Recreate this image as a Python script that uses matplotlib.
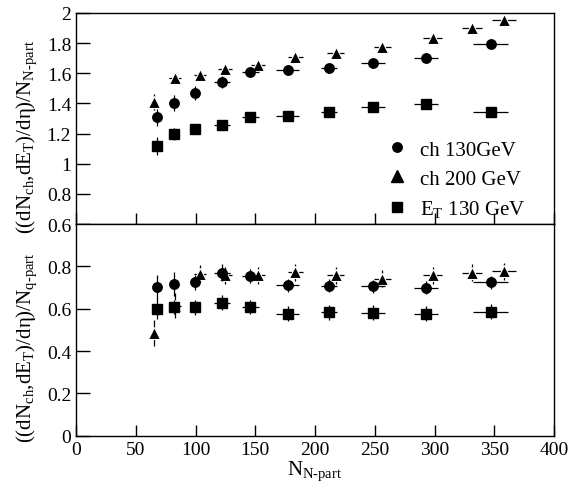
import matplotlib
matplotlib.use("Agg")
import matplotlib.pyplot as plt
from matplotlib.ticker import FuncFormatter, MultipleLocator
from matplotlib.lines import Line2D

plt.rcParams['font.family'] = ['Liberation Serif', 'DejaVu Serif']
plt.rcParams['mathtext.fontset'] = 'custom'
plt.rcParams['mathtext.rm'] = 'Liberation Serif'
plt.rcParams['mathtext.it'] = 'Liberation Serif:italic'
plt.rcParams['mathtext.bf'] = 'Liberation Serif:bold'

# ---- data ----
# ch 130 GeV (circles) and E_T 130 GeV (squares) share N_part values
npart_130 = [68.1, 82.3, 99.4, 122.3, 146.0, 177.0, 211.6, 248.2, 292.9, 347.0]
npart_130_err = [0, 0, 2, 6.5, 7, 9.8, 6.5, 10, 10, 14.6]
# ch 200 GeV (triangles)
npart_200 = [65.6, 83.2, 103.6, 124.5, 152.4, 183.4, 217.2, 256.3, 298.4, 331.4, 358.2]
npart_200_err = [0, 5, 5, 6, 6, 6.3, 7, 7, 7.7, 8.7, 9.8]

# top panel: per N_part
ch130_top = [1.307, 1.402, 1.468, 1.542, 1.610, 1.623, 1.635, 1.666, 1.701, 1.792]
ch130_top_err = [0.055, 0.053, 0.047, 0.037, 0.033, 0.02, 0.02, 0.02, 0.02, 0.02]
ch200_top = [1.410, 1.566, 1.588, 1.626, 1.654, 1.706, 1.734, 1.776, 1.836, 1.902, 1.953]
ch200_top_err = [0.053, 0.033, 0.03, 0.025, 0.025, 0.025, 0.025, 0.025, 0.025, 0.025, 0.025]
et130_top = [1.118, 1.196, 1.229, 1.260, 1.309, 1.318, 1.340, 1.373, 1.397, 1.344]
et130_top_err = [0.06, 0.04, 0.035, 0.03, 0.03, 0.02, 0.02, 0.02, 0.02, 0.02]

# bottom panel: per N_q-part
ch130_bot = [0.703, 0.716, 0.724, 0.770, 0.754, 0.711, 0.709, 0.706, 0.700, 0.725]
ch130_bot_err = [0.058, 0.055, 0.036, 0.04, 0.035, 0.03, 0.03, 0.03, 0.03, 0.03]
ch200_bot = [0.485, 0.615, 0.766, 0.758, 0.758, 0.771, 0.758, 0.741, 0.758, 0.770, 0.777]
ch200_bot_err = [0.06, 0.06, 0.04, 0.04, 0.04, 0.04, 0.04, 0.04, 0.04, 0.04, 0.04]
et130_bot = [0.600, 0.608, 0.607, 0.629, 0.608, 0.577, 0.583, 0.581, 0.577, 0.585]
et130_bot_err = [0.05, 0.035, 0.035, 0.035, 0.035, 0.035, 0.035, 0.035, 0.035, 0.035]

legend_labels = ['ch 130GeV', 'ch 200 GeV', r'E$_\mathrm{T}$ 130 GeV']

# ---- figure ----
W, H = 573, 485
fig = plt.figure(figsize=(W / 100, H / 100), dpi=100)
left, right = 76 / W, 554 / W
y_top, y_mid, y_bot = 1 - 14 / H, 1 - 225 / H, 1 - 436.7 / H
ax1 = fig.add_axes([left, y_mid, right - left, y_top - y_mid])
ax2 = fig.add_axes([left, y_bot, right - left, y_mid - y_bot])

ebkw = dict(fmt='none', ecolor='black', elinewidth=0.9, capsize=0)
mk = dict(color='black', linestyle='none')

def draw(ax, c, t, s, cerr, terr, serr):
    ax.errorbar(npart_200, t, yerr=terr, xerr=npart_200_err, **ebkw)
    ax.plot(npart_200, t, marker='^', markersize=9, markeredgecolor='white',
            markeredgewidth=0.8, **mk)
    ax.errorbar(npart_130, s, yerr=serr, xerr=npart_130_err, **ebkw)
    ax.plot(npart_130, s, marker='s', markersize=6.5, **mk)
    ax.errorbar(npart_130, c, yerr=cerr, xerr=npart_130_err, **ebkw)
    ax.plot(npart_130, c, marker='o', markersize=6.8, **mk)

draw(ax1, ch130_top, ch200_top, et130_top, ch130_top_err, ch200_top_err, et130_top_err)
draw(ax2, ch130_bot, ch200_bot, et130_bot, ch130_bot_err, ch200_bot_err, et130_bot_err)

fmt = FuncFormatter(lambda v, p: f"{v:g}")
for ax in (ax1, ax2):
    ax.set_xlim(0, 400)
    ax.xaxis.set_major_locator(MultipleLocator(50))
    ax.tick_params(direction='in', top=False, right=False, labelsize=14,
                   width=1.0, color='black')
    ax.tick_params(axis='y', length=10)
    ax.tick_params(axis='x', length=8)
    for sp in ax.spines.values():
        sp.set_linewidth(1.0)
    ax.yaxis.set_major_formatter(fmt)

ax1.set_ylim(0.6, 2.0)
ax1.set_yticks([0.6, 0.8, 1.0, 1.2, 1.4, 1.6, 1.8, 2.0])
ax1.tick_params(labelbottom=False)
ax2.set_ylim(0, 1.0)
ax2.set_yticks([0, 0.2, 0.4, 0.6, 0.8])
ax2.set_xlabel(r'N$_\mathrm{N\text{-}part}$', fontsize=15, labelpad=1)

handles = [Line2D([], [], marker='o', markersize=6.8, **mk),
           Line2D([], [], marker='^', markersize=8, **mk),
           Line2D([], [], marker='s', markersize=6.5, **mk)]
ax1.legend(handles, legend_labels, loc='lower right', bbox_to_anchor=(0.97, -0.045),
           frameon=False, fontsize=15, handlelength=1.0, handletextpad=0.6,
           labelspacing=0.45, borderpad=0.2)

fig.text(27 / W, 1 - 137 / H,
         r'((dN$_\mathrm{ch}$,dE$_\mathrm{T}$)/dη)/N$_\mathrm{N\text{-}part}$',
         rotation=90, ha='center', va='center', fontsize=15)
fig.text(27 / W, 1 - 348 / H,
         r'((dN$_\mathrm{ch}$,dE$_\mathrm{T}$)/dη)/N$_\mathrm{q\text{-}part}$',
         rotation=90, ha='center', va='center', fontsize=15)

fig.savefig('out.png', dpi=100)
